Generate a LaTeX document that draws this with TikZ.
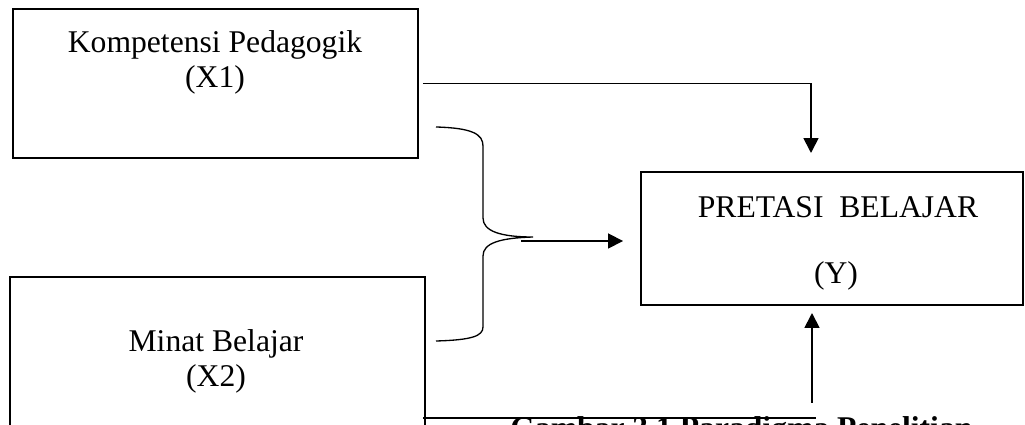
\documentclass[tikz,border=0pt]{standalone}
\usepackage{fontspec}
\setmainfont{Liberation Serif}
\usetikzlibrary{arrows.meta,positioning}

\begin{document}
\begin{tikzpicture}[x=0.02cm,y=-0.02cm,>={Triangle[length=8.5pt,width=8.5pt]},
  box/.style={draw,rectangle,line width=1.4pt,inner sep=0pt,outer sep=0pt},
  txt/.style={inner sep=0pt,anchor=base,font=\fontsize{18}{22}\selectfont},
  captxt/.style={inner sep=0pt,anchor=base west,font=\fontsize{18}{22}\selectfont\bfseries},
  conn/.style={line width=1pt}]
\useasboundingbox (0,0) rectangle (1025,425);

\node[box,minimum width=8.1cm,minimum height=2.98cm]  (x1) at (215.5,83.5) {};
 \node[box,minimum width=8.3cm,minimum height=3.36cm] (x2) at (217.5,361)  {};
  \node[box,minimum width=7.64cm,minimum height=2.66cm] (y) at (832,238.5) {};

\node[txt] (x1a) at (215,53)  {Kompetensi Pedagogik};
\node[txt] (x1b) at (215,88)  {(X1)};
\node[txt] (x2a) at (216,352) {Minat Belajar};
\node[txt] (x2b) at (216,387) {(X2)};
\node[txt] (ya)  at (838,218) {PRETASI~~BELAJAR};
\node[txt] (yb)  at (836,284) {(Y)};
\node[captxt] (fig) at (510,439) {Gambar 3.1 Paradigma Penelitian};

% brace
\draw[line width=0.75pt] (436,127) .. controls (472,128) and (483,134) .. (483,146)
   -- (483,218) .. controls (483,231) and (500,237) .. (533,237)
   .. controls (500,238) and (483,243) .. (483,256)
   -- (483,327) .. controls (483,336) and (472,340) .. (436,341);

\coordinate (brc) at (521,241);
\coordinate (t1)  at (811,153);
\coordinate (b1)  at (423,418);
\coordinate (b2)  at (816,418);
\coordinate (b3)  at (812,403);
\coordinate (t2)  at (812,313);

\draw[conn,->] ([xshift=0.1cm]x1.east) -| (t1);
\draw[conn,->] (brc) -- ([xshift=-0.36cm]y.west |- brc);
\draw[conn]    (b1) -- (b2);
\draw[conn,->] (b3) -- (t2);
\end{tikzpicture}
\end{document}
